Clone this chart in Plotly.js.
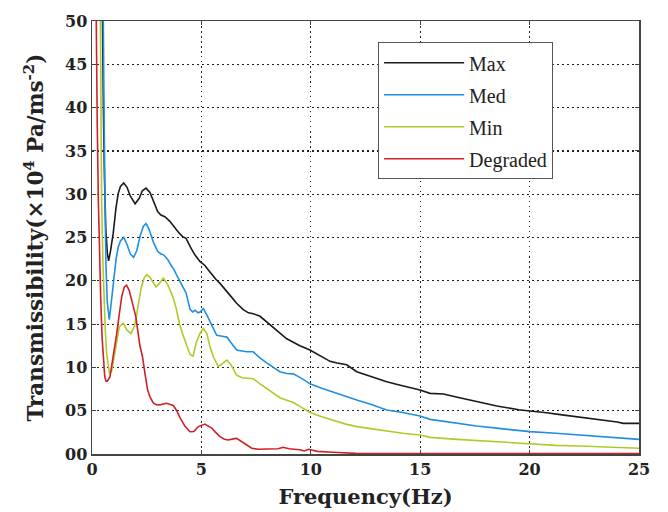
<!DOCTYPE html>
<html>
<head>
<meta charset="utf-8">
<script src="https://cdn.plot.ly/plotly-3.0.1.min.js"></script>
<style>html,body{margin:0;padding:0;background:#fff;}#chart{width:668px;height:512px;}</style>
</head>
<body>
<div id="chart"></div>
<script>
var seriesNames = ["Max", "Med", "Min", "Degraded"];
var seriesColors = ["#1a1a1a", "#1e8fe3", "#b2c92a", "#cc2229"];

var freqMax = [0.40,0.47,0.52,0.57,0.63,0.70,0.76,0.85,0.97,1.10,1.20,1.30,1.45,1.60,1.75,1.97,2.15,2.30,2.47,2.65,2.85,3.00,3.15,3.33,3.55,3.76,3.95,4.14,4.30,4.50,4.70,4.94,5.15,5.40,5.65,5.85,6.10,6.35,6.61,6.90,7.15,7.37,7.68,8.00,8.30,8.59,8.90,9.20,9.50,9.96,10.40,10.88,11.20,11.64,12.10,12.60,13.00,13.47,14.00,14.50,14.99,15.45,16.06,16.60,17.00,17.50,18.04,18.50,19.00,19.50,20.02,20.40,20.78,21.40,22.15,22.90,23.67,24.00,24.28,25.00];
var valMax = [70,50,40,32,26,23.2,22.3,23.5,25.5,28.5,30.1,30.9,31.3,30.8,29.8,28.9,29.5,30.4,30.7,30.2,28.9,28.0,27.6,27.4,26.9,26.2,25.6,25.1,24.9,23.9,23.0,22.2,21.8,21.0,20.2,19.7,19.0,18.2,17.4,16.7,16.3,16.2,15.9,15.2,14.5,13.9,13.3,12.9,12.5,12.0,11.4,10.7,10.5,10.3,9.5,9.1,8.7,8.35,8.0,7.7,7.4,7.0,6.93,6.6,6.4,6.1,5.8,5.55,5.3,5.1,4.97,4.9,4.77,4.55,4.31,4.1,3.85,3.7,3.54,3.54];

var freqMed = [0.45,0.50,0.55,0.60,0.64,0.70,0.75,0.79,0.85,0.97,1.10,1.20,1.30,1.45,1.60,1.75,1.90,2.05,2.20,2.35,2.47,2.60,2.80,3.00,3.15,3.27,3.45,3.61,3.75,3.90,4.10,4.30,4.48,4.60,4.71,4.85,4.94,5.09,5.24,5.45,5.70,5.95,6.16,6.40,6.61,6.85,7.07,7.37,7.67,8.00,8.30,8.59,8.90,9.20,9.60,9.96,10.50,11.18,11.60,12.10,12.80,13.47,14.20,14.99,15.45,16.50,17.58,18.80,20.02,21.20,22.30,23.50,25.00];
var valMed = [70,50,40,28,21.6,17.5,16.0,15.5,16.8,19.7,22.5,23.9,24.6,25.0,24.2,23.1,22.7,23.5,25.2,26.3,26.6,26.0,24.5,23.4,23.1,23.0,22.5,21.8,21.3,20.5,19.6,18.6,16.7,16.4,16.6,16.3,16.4,16.8,16.1,15.0,13.7,13.6,13.5,12.7,12.0,11.9,11.8,11.8,11.1,10.5,10.0,9.5,9.3,9.25,8.7,8.1,7.6,7.0,6.7,6.24,5.7,5.08,4.8,4.39,4.0,3.6,3.23,2.9,2.58,2.4,2.2,1.98,1.69];

var freqMin = [0.33,0.37,0.44,0.50,0.55,0.61,0.67,0.74,0.80,0.90,1.05,1.25,1.43,1.60,1.78,1.95,2.10,2.25,2.38,2.50,2.65,2.80,2.92,3.08,3.26,3.45,3.69,3.85,3.99,4.15,4.30,4.48,4.62,4.78,4.95,5.09,5.25,5.39,5.55,5.77,5.95,6.16,6.35,6.61,6.85,7.07,7.37,7.68,7.98,8.30,8.59,8.90,9.20,9.50,9.96,10.50,11.18,11.60,12.10,12.80,13.47,14.20,14.99,15.45,16.50,17.58,18.80,20.02,21.20,22.30,23.50,25.00];
var valMin = [70,50,29.3,22,17.8,14.2,11.6,10.0,9.3,9.6,12.0,14.7,15.1,14.3,13.9,14.8,17.0,19.2,20.3,20.7,20.4,19.7,19.3,19.7,20.3,19.6,18.2,16.8,15.1,13.8,12.8,11.5,11.3,13.0,14.0,14.5,13.9,12.4,11.2,10.1,10.4,10.85,10.3,9.1,8.8,8.74,8.7,8.1,7.6,7.0,6.5,6.2,5.95,5.5,4.8,4.3,3.73,3.45,3.16,2.9,2.66,2.4,2.19,1.92,1.72,1.54,1.32,1.12,1.0,0.93,0.8,0.66];

var freqDeg = [0.12,0.18,0.24,0.29,0.35,0.40,0.46,0.52,0.58,0.64,0.70,0.82,0.97,1.13,1.25,1.36,1.48,1.58,1.70,1.85,2.00,2.19,2.31,2.42,2.54,2.65,2.80,2.96,3.15,3.41,3.72,3.87,4.02,4.25,4.48,4.65,4.86,5.16,5.47,5.65,5.85,6.05,6.23,6.45,6.61,6.92,7.10,7.30,7.60,8.00,8.29,8.50,8.74,9.00,9.50,9.70,9.90,10.30,11.00,12.07,13.00,14.00,16.10,17.00,20.00,25.00];
var valDeg = [70,50,38,29.3,22,17.8,13.5,10.85,9.0,8.4,8.4,8.9,11.2,13.9,16.2,18.2,19.3,19.5,18.9,17.5,15.9,12.5,11.2,9.3,7.4,6.6,5.9,5.66,5.7,5.85,5.6,5.0,4.2,3.2,2.57,2.6,3.16,3.46,3.0,2.5,2.0,1.7,1.62,1.75,1.8,1.3,1.0,0.66,0.55,0.55,0.54,0.6,0.77,0.6,0.5,0.35,0.55,0.3,0.2,0.07,0.05,0.05,0.05,0.05,0.05,0.05];

var xTickVals = [0,5,10,15,20,25];
var xTickText = ["0","5","10","15","20","25"];
var yTickVals = [0,5,10,15,20,25,30,35,40,45,50];
var yTickText = ["00","05","10","15","20","25","30","35","40","45","50"];

var xs = [freqMax, freqMed, freqMin, freqDeg];
var ys = [valMax, valMed, valMin, valDeg];
var traces = seriesNames.map(function(n, i){
  return {x: xs[i], y: ys[i], type: 'scatter', mode: 'lines', name: n,
          legendgroup: 'g' + i,
          line: {color: seriesColors[i], width: 1.6}};
});

var tickFont = {family: 'DejaVu Serif', size: 16, color: '#222', weight: 'bold'};
var layout = {
  width: 668, height: 512,
  margin: {l: 92, r: 29, t: 21, b: 58, pad: 0},
  paper_bgcolor: '#fff', plot_bgcolor: '#fff',
  showlegend: true,
  legend: {x: 0.523, y: 0.951, xanchor: 'left', yanchor: 'top',
           bgcolor: '#fff', bordercolor: '#555', borderwidth: 1,
           font: {family: 'Liberation Serif', size: 20, color: '#222'},
           itemwidth: 80, tracegroupgap: 3},
  xaxis: {range: [0, 25], tickvals: xTickVals, ticktext: xTickText,
          showgrid: true, gridcolor: '#222', griddash: '1.5px,3.5px', gridwidth: 1.2,
          zeroline: false, showline: true, linecolor: '#444', linewidth: 1.5, mirror: 'ticks',
          ticks: 'inside', ticklen: 4, tickcolor: '#444',
          tickfont: tickFont,
          title: {text: 'Frequency(Hz)', font: {family: 'DejaVu Serif', size: 21, color: '#222', weight: 'bold'}, standoff: 11}},
  yaxis: {range: [0, 50], tickvals: yTickVals, ticktext: yTickText,
          showgrid: true, gridcolor: '#222', griddash: '1.5px,3.5px', gridwidth: 1.2,
          zeroline: false, showline: true, linecolor: '#444', linewidth: 1.5, mirror: 'ticks',
          ticks: 'inside', ticklen: 4, tickcolor: '#444',
          tickfont: tickFont,
          title: {text: 'Transmissibility(×10<sup>4</sup> Pa/ms<sup>-2</sup>)', font: {family: 'DejaVu Serif', size: 21.5, color: '#222', weight: 'bold'}, standoff: 15}}
};
Plotly.newPlot('chart', traces, layout, {displayModeBar: false, staticPlot: true});
</script>
</body>
</html>
